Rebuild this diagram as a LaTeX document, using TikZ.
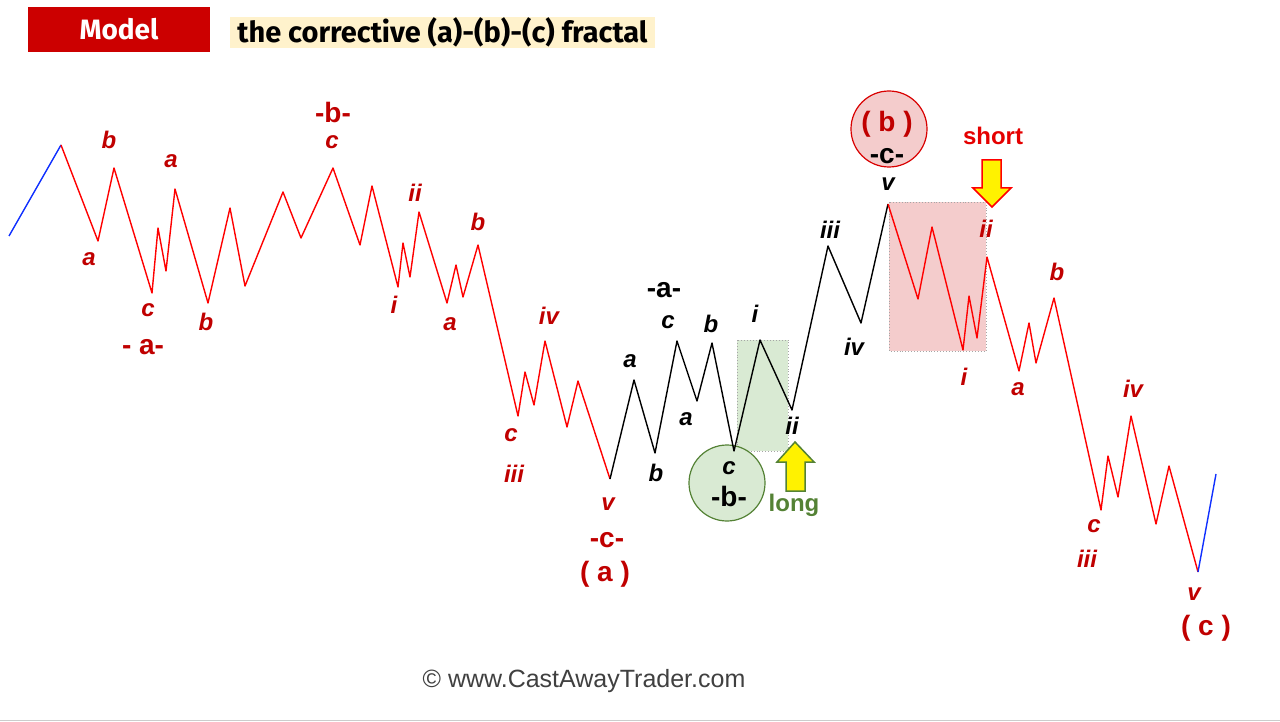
\documentclass[tikz,border=0pt]{standalone}
\usepackage{fontspec}
\setmainfont{Liberation Sans}
\newfontfamily\titlefont{Fira Sans}
\definecolor{lblred}{HTML}{C00000}
\definecolor{wavered}{HTML}{FF0000}
\definecolor{waveblue}{HTML}{1030FF}
\definecolor{boxred}{HTML}{CC0000}
\definecolor{titlebg}{HTML}{FFF2CC}
\definecolor{lgreen}{HTML}{D9EAD3}
\definecolor{dgreen}{HTML}{548235}
\definecolor{lred}{HTML}{F4CCCC}
\definecolor{copygray}{HTML}{404040}
\begin{document}
\begin{tikzpicture}[x=1pt,y=-1pt,
  lbl/.style={inner sep=0pt,text=lblred,font=\fontsize{24pt}{26pt}\selectfont\bfseries\itshape},
  blbl/.style={lbl,text=black},
  deg/.style={inner sep=0pt,text=lblred,font=\fontsize{28pt}{30pt}\selectfont\bfseries},
  bdeg/.style={deg,text=black},
  wave/.style={line width=1.4pt,line join=round},
  zone/.style={draw=gray!70,dotted,line width=0.9pt},
  ring/.style={circle,minimum size=76pt,inner sep=0pt,line width=1.2pt}]
\useasboundingbox (0,0) rectangle (1280,722);
\fill[white] (0,0) rectangle (1280,722);
\draw[gray!40,line width=1.5pt] (0,720.5) -- (1280,720.5);
% title
\node[fill=boxred,minimum width=182pt,minimum height=45pt,inner sep=0pt,text=white,font=\titlefont\fontsize{28pt}{30pt}\selectfont\bfseries] (model) at (119,29.5) {Model};
\node[fill=titlebg,minimum width=425pt,minimum height=31pt,inner sep=0pt,text=black,font=\titlefont\fontsize{29pt}{31pt}\selectfont\bfseries] (title) at (442.5,32.5) {the corrective (a)-(b)-(c) fractal};
% zones
\draw[zone,fill=lgreen] (737,340) rectangle (788,451);
\draw[zone,fill=lred] (889,202) rectangle (986,351);
\node[ring,draw=dgreen,fill=lgreen] (gcirc) at (727,483) {};
\node[ring,draw=wavered!85!black,fill=lred] (rcirc) at (889,129) {};
% arrows
\draw[fill=yellow,draw=dgreen,line width=1.5pt,line join=miter] (795,442) -- (814,462) -- (805,462) -- (805,491) -- (786,491) -- (786,462) -- (777,462) -- cycle;
\draw[fill=yellow,draw=wavered,line width=1.5pt,line join=miter] (992,207) -- (1011,188) -- (1001,188) -- (1001,160) -- (982,160) -- (982,188) -- (973,188) -- cycle;
% waves
\draw[wave,waveblue] plot coordinates {(9,236) (61,145)};
\draw[wave,wavered] plot coordinates {(61,145) (98,241) (114,168) (152,293) (158,228) (166,271) (175,189) (208,303) (230,208) (245,286) (283,192) (301,238) (333,168) (360,245) (372,186) (398,287) (403,243) (410,277) (419,212) (447,303) (456,265) (463,297) (478,245) (518,416) (525,372) (534,405) (545,341) (567,427) (578,381) (610,479)};
\draw[wave,black] plot coordinates {(610,479) (634,380) (655,453) (677,341) (697,401) (712,343) (734,451) (760,340) (792,410) (828,246) (861,323) (888,204)};
\draw[wave,wavered] plot coordinates {(888,204) (918,299) (932,227) (963,350) (969,296) (977,338) (987,257) (1019,371) (1029,323) (1036,363) (1054,298) (1101,510) (1108,456) (1118,497) (1131,416) (1156,524) (1169,466) (1198,572)};
\draw[wave,waveblue] plot coordinates {(1198,572) (1216,474)};
% labels left
\node[lbl] (l1) at (109,140) {b};
\node[lbl] (l2) at (89,259) {a};
\node[lbl] (l3) at (171,161) {a};
\node[lbl] (l4) at (148,310) {c};
\node[deg] (l5) at (143,347) {- a-};
\node[lbl] (l6) at (206,322) {b};
\node[deg] (l7) at (333,112) {-b-};
\node[lbl] (l8) at (332,142) {c};
\node[lbl] (l9) at (415,193) {ii};
\node[lbl] (l10) at (394,305) {i};
\node[lbl] (l11) at (450,324) {a};
\node[lbl] (l12) at (478,222) {b};
\node[lbl] (l13) at (549,316) {iv};
\node[lbl] (l14) at (511,435) {c};
\node[lbl] (l15) at (514,474) {iii};
\node[lbl] (l16) at (608,504) {v};
\node[deg] (l17) at (607,540) {-c-};
\node[deg] (l18) at (605,574) {( a )};
% labels middle
\node[blbl] (m1) at (630,361) {a};
\node[blbl] (m2) at (656,473) {b};
\node[bdeg] (m3) at (664,290) {-a-};
\node[blbl] (m4) at (668,322) {c};
\node[blbl] (m5) at (686,419) {a};
\node[blbl] (m6) at (711,324) {b};
\node[blbl] (m7) at (755,314) {i};
\node[blbl] (m8) at (792,426) {ii};
\node[blbl] (m9) at (729,468) {c};
\node[bdeg] (m10) at (729,496) {-b-};
\node[inner sep=0pt,text=dgreen,font=\fontsize{24pt}{26pt}\selectfont\bfseries] (long) at (794,505) {long};
\node[blbl] (m11) at (830,230) {iii};
\node[blbl] (m12) at (854,347) {iv};
\node[blbl] (m13) at (888,184) {v};
\node[bdeg] (m14) at (887,156) {-c-};
\node[deg] (m15) at (887,124) {( b )};
% labels right
\node[inner sep=0pt,text=wavered!90!black,font=\fontsize{24pt}{26pt}\selectfont\bfseries] (short) at (993,136) {short};
\node[lbl] (r1) at (986,229) {ii};
\node[lbl] (r2) at (964,377) {i};
\node[lbl] (r3) at (1018,389) {a};
\node[lbl] (r4) at (1057,272) {b};
\node[lbl] (r5) at (1133,389) {iv};
\node[lbl] (r6) at (1094,526) {c};
\node[lbl] (r7) at (1087,559) {iii};
\node[lbl] (r8) at (1194,594) {v};
\node[deg] (r9) at (1206,628) {( c )};
% footer
\node[inner sep=0pt,text=copygray,font=\fontsize{25pt}{27pt}\selectfont] (copy) at (584,681) {© www.CastAwayTrader.com};
\end{tikzpicture}
\end{document}
